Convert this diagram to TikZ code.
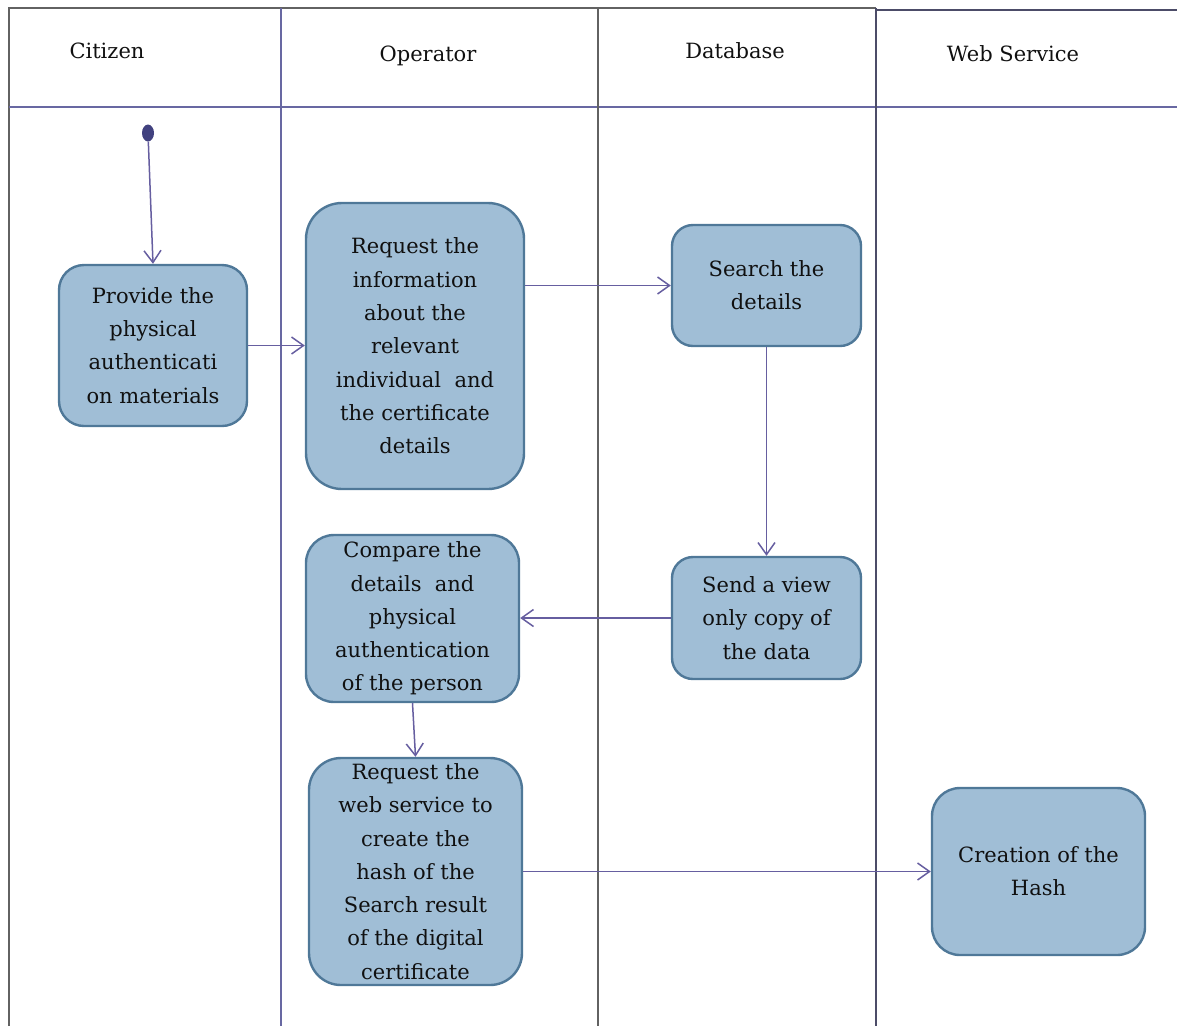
\documentclass[tikz,border=0pt]{standalone}
\usepackage{fontspec}
\setmainfont{DejaVu Serif}
\usetikzlibrary{arrows.meta,shapes.geometric}
\definecolor{actfill}{HTML}{A0BED6}
\definecolor{actdraw}{HTML}{4F7898}
\definecolor{flowline}{HTML}{665EA0}
\definecolor{lanepurple}{HTML}{6868A2}
\definecolor{lanegray}{HTML}{626262}
\definecolor{lanedark}{HTML}{4C4C68}
\definecolor{inkdark}{HTML}{101010}
\begin{document}
\begin{tikzpicture}[x=1pt,y=-1pt,
  activity/.style={draw=actdraw, fill=actfill, line width=2.4pt,
    rounded corners=#1, align=center, inner sep=0pt, text=inkdark,
    font=\fontsize{21}{33.3}\selectfont},
  activity/.default=25pt,
  lanehead/.style={text=inkdark, font=\fontsize{21}{25}\selectfont, inner sep=0pt},
  flow/.style={draw=flowline, line width=1.5pt,
    -{Straight Barb[length=12pt,width=17pt,line width=1.5pt]}},
  startdot/.style={ellipse, fill=lanedark!85!blue, draw=none,
    minimum width=12pt, minimum height=17pt, inner sep=0pt}
]
\useasboundingbox (0,0) rectangle (1177,1026);

% swimlane frame
\draw[lanegray, line width=2.2pt] (9,1026) -- (9,8) -- (876,8);
\draw[lanedark, line width=1.6pt] (876,10) -- (1177,10);
\draw[lanepurple, line width=1.6pt] (9,107) -- (1177,107);
\draw[lanepurple, line width=1.5pt] (281,8) -- (281,1026);
\draw[lanegray, line width=1.6pt] (598,8) -- (598,1026);
\draw[lanedark, line width=2.2pt] (876,8) -- (876,1026);

% lane titles
\node[lanehead] (h1) at (107,51) {Citizen};
\node[lanehead] (h2) at (428,56) {Operator};
\node[lanehead] (h3) at (735,51) {Database};
\node[lanehead] (h4) at (1013,54) {Web Service};

% start point
\node[startdot] (s0) at (148,133) {};

% activities
\node[activity, minimum width=188pt, minimum height=161pt] (a1) at (153,345.5)
  {Provide the\\physical\\authenticati\\on materials};
\node[activity=36pt, minimum width=218pt, minimum height=286pt] (a2) at (415,346)
  {Request the\\information\\about the\\relevant\\individual\ \ and\\the certificate\\details};
\node[activity=21pt, minimum width=189pt, minimum height=121pt] (a3) at (766.5,285.5)
  {Search the\\details};
\node[activity=21pt, minimum width=189pt, minimum height=122pt] (a4) at (766.5,618)
  {Send a view\\only copy of\\the data};
\node[activity=28pt, minimum width=213pt, minimum height=167pt] (a5) at (412.5,618.5)
  {Compare the\\details\ \ and\\physical\\authentication\\of the person};
\node[activity=32pt, minimum width=213pt, minimum height=227pt] (a6) at (415.5,871.5)
  {Request the\\web service to\\create the\\hash of the\\Search result\\of the digital\\certificate};
\node[activity=28pt, minimum width=213pt, minimum height=167pt] (a7) at (1038.5,871.5)
  {Creation of the\\Hash};

% control flow
\draw[flow] (s0) -- (a1.north);
\draw[flow] (a1.east) -- (a2.west |- a1.east);
\draw[flow] (a2.east |- a3.west) -- (a3.west);
\draw[flow] (a3.south) -- (a4.north);
\draw[flow] (a4.west) -- (a5.east |- a4.west);
\draw[flow] (a5.south) -- (a6.north);
\draw[flow] (a6.east) -- (a7.west |- a6.east);
\end{tikzpicture}
\end{document}
